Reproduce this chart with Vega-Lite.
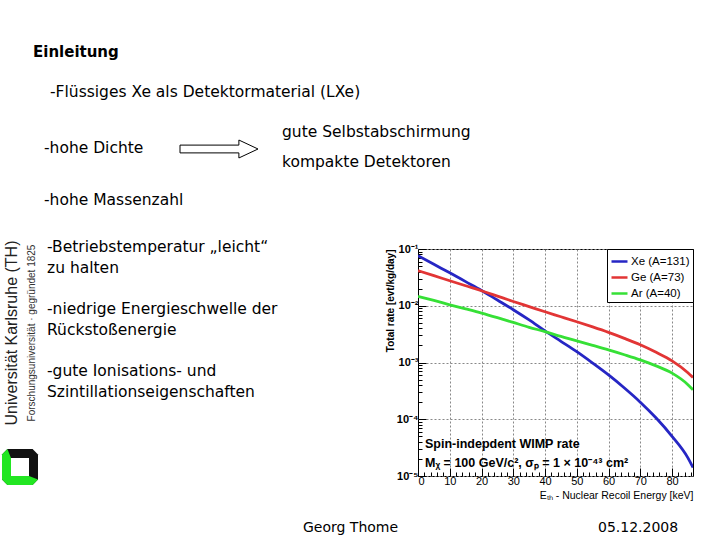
{
  "$schema": "https://vega.github.io/schema/vega-lite/v6.json",
  "padding": {"top": 45, "left": 0, "right": 0, "bottom": 0},
  "background": "white",
  "spacing": 0,
  "resolve": {"scale": {"color": "independent"}, "legend": {"color": "independent"}},
  "config": {
    "view": {"stroke": null},
    "font": "DejaVu Sans",
    "text": {"font": "DejaVu Sans", "fontSize": 15.5, "fill": "#000000"}
  },
  "vconcat": [
    {
      "hconcat": [
        {"width": 33, "height": 40, "data": {"values": []}, "mark": "point"},
        {
          "width": 100, "height": 40,
          "data": {"values": [{"t": "Einleitung"}]},
          "mark": {"type": "text", "align": "left", "baseline": "top", "fontWeight": "bold", "fontSize": 15},
          "encoding": {
            "text": {"field": "t"},
            "x": {"datum": "p", "type": "nominal", "scale": {"type": "point", "padding": 0, "align": 0}, "axis": null},
            "y": {"datum": "p", "type": "nominal", "scale": {"type": "point", "padding": 0, "align": 0}, "axis": null}
          }
        }
      ],
      "spacing": 0
    },
    {
      "hconcat": [
        {"width": 50, "height": 40, "data": {"values": []}, "mark": "point"},
        {
          "width": 100, "height": 40,
          "data": {"values": [{"t": "-Flüssiges Xe als Detektormaterial (LXe)"}]},
          "mark": {"type": "text", "align": "left", "baseline": "top"},
          "encoding": {
            "text": {"field": "t"},
            "x": {"datum": "p", "type": "nominal", "scale": {"type": "point", "padding": 0, "align": 0}, "axis": null},
            "y": {"datum": "p", "type": "nominal", "scale": {"type": "point", "padding": 0, "align": 0}, "axis": null}
          }
        }
      ],
      "spacing": 0
    },
    {
      "hconcat": [
        {"width": 44, "height": 68, "data": {"values": []}, "mark": "point"},
        {
          "width": 134, "height": 16,
          "data": {"values": [{"t": "-hohe Dichte"}]},
          "mark": {"type": "text", "align": "left", "baseline": "top"},
          "encoding": {
            "text": {"field": "t"},
            "x": {"datum": "p", "type": "nominal", "scale": {"type": "point", "padding": 0, "align": 0}, "axis": null},
            "y": {"datum": "p", "type": "nominal", "scale": {"type": "point", "padding": 0, "align": 1}, "axis": null}
          }
        },
        {
          "width": 80, "height": 48,
          "data": {"values": [{"t": "arrow"}]},
          "mark": {"type": "point", "shape": "M-1,-0.1 L0.51,-0.1 L0.51,-0.23 L1,0 L0.51,0.23 L0.51,0.1 L-1,0.1 Z", "size": 6084, "filled": true, "fill": "white", "stroke": "black", "strokeWidth": 1, "opacity": 1}
        },
        {"width": 22, "height": 1, "data": {"values": []}, "mark": "point"},
        {
          "width": 200, "height": 1,
          "data": {"values": [{"t": "gute Selbstabschirmung\nkompakte Detektoren"}]},
          "mark": {"type": "text", "align": "left", "baseline": "top", "lineBreak": "\n", "lineHeight": 30},
          "encoding": {
            "text": {"field": "t"},
            "x": {"datum": "p", "type": "nominal", "scale": {"type": "point", "padding": 0, "align": 0}, "axis": null},
            "y": {"datum": "p", "type": "nominal", "scale": {"type": "point", "padding": 0, "align": 0}, "axis": null}
          }
        }
      ],
      "spacing": 0
    },
    {
      "hconcat": [
        {"width": 44, "height": 47, "data": {"values": []}, "mark": "point"},
        {
          "width": 200, "height": 20,
          "data": {"values": [{"t": "-hohe Massenzahl"}]},
          "mark": {"type": "text", "align": "left", "baseline": "top"},
          "encoding": {
            "text": {"field": "t"},
            "x": {"datum": "p", "type": "nominal", "scale": {"type": "point", "padding": 0, "align": 0}, "axis": null},
            "y": {"datum": "p", "type": "nominal", "scale": {"type": "point", "padding": 0, "align": 0}, "axis": null}
          }
        }
      ],
      "spacing": 0
    },
    {
      "hconcat": [
        {
          "vconcat": [
            {
              "hconcat": [
                {
                  "width": 24, "height": 186,
                  "data": {"values": [{"t": "Universität Karlsruhe (TH)"}]},
                  "mark": {"type": "text", "angle": 270, "align": "center", "baseline": "middle", "font": "Liberation Sans", "fontSize": 16, "fill": "#222222"},
                  "encoding": {"text": {"field": "t"}}
                },
                {
                  "width": 16, "height": 186,
                  "data": {"values": [{"t": "Forschungsuniversität · gegründet 1825"}]},
                  "mark": {"type": "text", "angle": 270, "align": "center", "baseline": "middle", "font": "Liberation Sans", "fontSize": 10, "fill": "#333333"},
                  "encoding": {"text": {"field": "t"}}
                }
              ],
              "spacing": 0
            },
            {
              "hconcat": [
                {
                  "width": 40, "height": 82,
                  "data": {"values": [{"logo": "Universität Karlsruhe"}]},
                  "layer": [
                    {"mark": {"type": "point", "shape": "M-0.7,-1 L0.7,-1 L1,-0.7 L1,0.7 L0.7,1 L-0.7,1 L-1,0.7 L-1,-0.7 Z", "size": 1296, "filled": true, "fill": "#111111", "opacity": 1}},
                    {"mark": {"type": "point", "shape": "M-1,-0.7 L-0.7,-1 L-0.5,-0.5 L-0.5,0.5 L0.5,0.5 L1,0.7 L0.7,1 L-0.7,1 L-1,0.7 Z", "size": 1296, "filled": true, "fill": "#22e622", "opacity": 1}},
                    {"mark": {"type": "point", "shape": "square", "size": 324, "filled": true, "fill": "white", "opacity": 1}}
                  ]
                },
                {"width": 7, "height": 1, "data": {"values": []}, "mark": "point"}
              ],
              "spacing": 0
            }
          ],
          "spacing": 0
        },
        {
          "width": 337, "height": 124,
          "data": {"values": [
            {"bullet": "1", "t": "-Betriebstemperatur „leicht“\nzu halten"},
            {"bullet": "2", "t": "-niedrige Energieschwelle der\nRückstoßenergie"},
            {"bullet": "3", "t": "-gute Ionisations- und\nSzintillationseigenschaften"}
          ]},
          "mark": {"type": "text", "align": "left", "baseline": "top", "lineBreak": "\n", "lineHeight": 20.9},
          "encoding": {
            "text": {"field": "t"},
            "x": {"datum": "p", "type": "nominal", "scale": {"type": "point", "padding": 0, "align": 0}, "axis": null},
            "y": {"field": "bullet", "type": "ordinal", "scale": {"type": "point", "padding": 0}, "axis": null}
          }
        },
        {
          "vconcat": [
            {"width": 1, "height": 2, "data": {"values": []}, "mark": "point"},
            {
              "width": 275, "height": 227,
              "view": {"stroke": "#000000", "strokeWidth": 1, "fill": "white"},
              "data": {"values": [
                {"element": "Xe (A=131)", "energy": 0, "rate": 0.0762},
                {"element": "Xe (A=131)", "energy": 5, "rate": 0.0537},
                {"element": "Xe (A=131)", "energy": 10, "rate": 0.0380},
                {"element": "Xe (A=131)", "energy": 15, "rate": 0.0266},
                {"element": "Xe (A=131)", "energy": 20, "rate": 0.0186},
                {"element": "Xe (A=131)", "energy": 25, "rate": 0.0126},
                {"element": "Xe (A=131)", "energy": 30, "rate": 0.00851},
                {"element": "Xe (A=131)", "energy": 35, "rate": 0.00562},
                {"element": "Xe (A=131)", "energy": 40, "rate": 0.00360},
                {"element": "Xe (A=131)", "energy": 45, "rate": 0.00236},
                {"element": "Xe (A=131)", "energy": 50, "rate": 0.00155},
                {"element": "Xe (A=131)", "energy": 55, "rate": 0.000977},
                {"element": "Xe (A=131)", "energy": 60, "rate": 0.000603},
                {"element": "Xe (A=131)", "energy": 65, "rate": 0.000355},
                {"element": "Xe (A=131)", "energy": 70, "rate": 0.000200},
                {"element": "Xe (A=131)", "energy": 75, "rate": 0.000105},
                {"element": "Xe (A=131)", "energy": 80, "rate": 0.0000501},
                {"element": "Xe (A=131)", "energy": 85, "rate": 0.0000209},
                {"element": "Xe (A=131)", "energy": 86.6, "rate": 0.0000141},
                {"element": "Ge (A=73)", "energy": 0, "rate": 0.0415},
                {"element": "Ge (A=73)", "energy": 5, "rate": 0.0339},
                {"element": "Ge (A=73)", "energy": 10, "rate": 0.0276},
                {"element": "Ge (A=73)", "energy": 15, "rate": 0.0225},
                {"element": "Ge (A=73)", "energy": 20, "rate": 0.0184},
                {"element": "Ge (A=73)", "energy": 25, "rate": 0.0148},
                {"element": "Ge (A=73)", "energy": 30, "rate": 0.0119},
                {"element": "Ge (A=73)", "energy": 35, "rate": 0.00966},
                {"element": "Ge (A=73)", "energy": 40, "rate": 0.00783},
                {"element": "Ge (A=73)", "energy": 45, "rate": 0.00640},
                {"element": "Ge (A=73)", "energy": 50, "rate": 0.00522},
                {"element": "Ge (A=73)", "energy": 55, "rate": 0.00423},
                {"element": "Ge (A=73)", "energy": 60, "rate": 0.00339},
                {"element": "Ge (A=73)", "energy": 65, "rate": 0.00266},
                {"element": "Ge (A=73)", "energy": 70, "rate": 0.00205},
                {"element": "Ge (A=73)", "energy": 75, "rate": 0.00151},
                {"element": "Ge (A=73)", "energy": 80, "rate": 0.00107},
                {"element": "Ge (A=73)", "energy": 85, "rate": 0.000661},
                {"element": "Ge (A=73)", "energy": 86.6, "rate": 0.000543},
                {"element": "Ar (A=40)", "energy": 0, "rate": 0.0146},
                {"element": "Ar (A=40)", "energy": 5, "rate": 0.0124},
                {"element": "Ar (A=40)", "energy": 10, "rate": 0.0104},
                {"element": "Ar (A=40)", "energy": 15, "rate": 0.00881},
                {"element": "Ar (A=40)", "energy": 20, "rate": 0.00743},
                {"element": "Ar (A=40)", "energy": 25, "rate": 0.00617},
                {"element": "Ar (A=40)", "energy": 30, "rate": 0.00508},
                {"element": "Ar (A=40)", "energy": 35, "rate": 0.00417},
                {"element": "Ar (A=40)", "energy": 40, "rate": 0.00350},
                {"element": "Ar (A=40)", "energy": 45, "rate": 0.00288},
                {"element": "Ar (A=40)", "energy": 50, "rate": 0.00241},
                {"element": "Ar (A=40)", "energy": 55, "rate": 0.00201},
                {"element": "Ar (A=40)", "energy": 60, "rate": 0.00167},
                {"element": "Ar (A=40)", "energy": 65, "rate": 0.00137},
                {"element": "Ar (A=40)", "energy": 70, "rate": 0.00111},
                {"element": "Ar (A=40)", "energy": 75, "rate": 0.000871},
                {"element": "Ar (A=40)", "energy": 80, "rate": 0.000649},
                {"element": "Ar (A=40)", "energy": 85, "rate": 0.000407},
                {"element": "Ar (A=40)", "energy": 86.6, "rate": 0.000330}
              ]},
              "layer": [
                {
                  "mark": {"type": "line", "strokeWidth": 2.8, "interpolate": "monotone", "clip": true},
                  "encoding": {
                    "x": {
                      "field": "energy", "type": "quantitative",
                      "scale": {"domain": [0, 86.6], "nice": false, "zero": false},
                      "axis": {
                        "values": [0,2,4,6,8,10,12,14,16,18,20,22,24,26,28,30,32,34,36,38,40,42,44,46,48,50,52,54,56,58,60,62,64,66,68,70,72,74,76,78,80,82,84,86],
                        "tickCount": 100,
                        "title": "Eₜₕ - Nuclear Recoil Energy [keV]",
                        "titleAnchor": "end", "titleFont": "Liberation Sans", "titleFontSize": 10.5, "titleFontWeight": "normal", "titlePadding": 0, "titleColor": "#000000",
                        "labelFont": "Liberation Sans", "labelFontSize": 11, "labelColor": "#000000",
                        "labelExpr": "datum.value % 10 === 0 ? datum.label : ''",
                        "labelAlign": {"condition": {"test": "datum.value === 0", "value": "left"}, "value": "center"},
                        "labelPadding": 7, "labelFlush": false, "labelOverlap": false,
                        "domain": false, "tickColor": "#000000",
                        "tickSize": {"condition": {"test": "datum.value % 10 === 0", "value": -8}, "value": -4},
                        "grid": true, "gridColor": "#888888", "gridDash": [2, 2],
                        "gridOpacity": {"condition": {"test": "datum.value % 10 === 0 && datum.value > 0", "value": 1}, "value": 0}
                      }
                    },
                    "y": {
                      "field": "rate", "type": "quantitative",
                      "scale": {"type": "log", "domain": [0.00001, 0.1], "nice": false},
                      "axis": {
                        "values": [1e-5,2e-5,3e-5,4e-5,5e-5,6e-5,7e-5,8e-5,9e-5,1e-4,2e-4,3e-4,4e-4,5e-4,6e-4,7e-4,8e-4,9e-4,1e-3,2e-3,3e-3,4e-3,5e-3,6e-3,7e-3,8e-3,9e-3,1e-2,2e-2,3e-2,4e-2,5e-2,6e-2,7e-2,8e-2,9e-2,1e-1],
                        "tickCount": 100,
                        "title": "Total rate [evt/kg/day]",
                        "titleAnchor": "end", "titleFont": "Liberation Sans", "titleFontSize": 10, "titleFontWeight": "bold", "titlePadding": 1, "titleColor": "#000000",
                        "labelFont": "Liberation Sans", "labelFontSize": 11, "labelFontWeight": "bold", "labelColor": "#000000",
                        "labelExpr": "abs(log(datum.value)/LN10 - round(log(datum.value)/LN10)) < 0.001 ? '10' + ['⁰','⁻¹','⁻²','⁻³','⁻⁴','⁻⁵'][-round(log(datum.value)/LN10)] : ''",
                        "labelPadding": 8, "labelFlush": false, "labelOverlap": false,
                        "domain": false, "tickColor": "#000000",
                        "tickSize": {"condition": {"test": "abs(log(datum.value)/LN10 - round(log(datum.value)/LN10)) < 0.001", "value": -8}, "value": -4},
                        "grid": true, "gridColor": "#888888", "gridDash": [2, 2],
                        "gridOpacity": {"condition": {"test": "abs(log(datum.value)/LN10 - round(log(datum.value)/LN10)) < 0.001", "value": 1}, "value": 0}
                      }
                    },
                    "color": {
                      "field": "element", "type": "nominal",
                      "scale": {"domain": ["Xe (A=131)", "Ge (A=73)", "Ar (A=40)"], "range": ["#2626c4", "#e23535", "#36e036"]},
                      "legend": {
                        "title": null, "orient": "top-right", "offset": 0,
                        "fillColor": "white", "strokeColor": "#000000", "padding": 3,
                        "labelFont": "Liberation Sans", "labelFontSize": 11.5, "labelColor": "#000000", "labelOffset": 2,
                        "symbolType": "stroke", "symbolStrokeWidth": 2.5, "symbolSize": 256, "rowPadding": 1
                      }
                    }
                  }
                },
                {
                  "data": {"values": [{"label": "Spin-indepdent WIMP rate"}]},
                  "mark": {"type": "text", "align": "left", "baseline": "middle", "font": "Liberation Sans", "fontWeight": "bold", "fontSize": 12.5},
                  "encoding": {"text": {"field": "label"}, "x": {"datum": 2.2}, "y": {"datum": 0.0000366}}
                },
                {
                  "data": {"values": [{"label": "Mᵪ = 100 GeV/c², σₚ = 1 × 10⁻⁴³ cm²"}]},
                  "mark": {"type": "text", "align": "left", "baseline": "middle", "font": "Liberation Sans", "fontWeight": "bold", "fontSize": 12.5},
                  "encoding": {"text": {"field": "label"}, "x": {"datum": 2.2}, "y": {"datum": 0.0000170}}
                }
              ]
            }
          ],
          "spacing": 0,
          "resolve": {"scale": {"color": "independent"}, "legend": {"color": "independent"}}
        }
      ],
      "spacing": 0,
      "resolve": {"scale": {"color": "independent"}, "legend": {"color": "independent"}}
    },
    {
      "hconcat": [
        {"width": 303, "height": 13, "data": {"values": []}, "mark": "point"},
        {
          "width": 295, "height": 13,
          "data": {"values": [{"t": "Georg Thome"}]},
          "mark": {"type": "text", "align": "left", "baseline": "top", "fontSize": 14},
          "encoding": {
            "text": {"field": "t"},
            "x": {"datum": "p", "type": "nominal", "scale": {"type": "point", "padding": 0, "align": 0}, "axis": null},
            "y": {"datum": "p", "type": "nominal", "scale": {"type": "point", "padding": 0, "align": 1}, "axis": null}
          }
        },
        {
          "width": 100, "height": 13,
          "data": {"values": [{"t": "05.12.2008"}]},
          "mark": {"type": "text", "align": "left", "baseline": "top", "fontSize": 14},
          "encoding": {
            "text": {"field": "t"},
            "x": {"datum": "p", "type": "nominal", "scale": {"type": "point", "padding": 0, "align": 0}, "axis": null},
            "y": {"datum": "p", "type": "nominal", "scale": {"type": "point", "padding": 0, "align": 1}, "axis": null}
          }
        }
      ],
      "spacing": 0
    }
  ]
}
